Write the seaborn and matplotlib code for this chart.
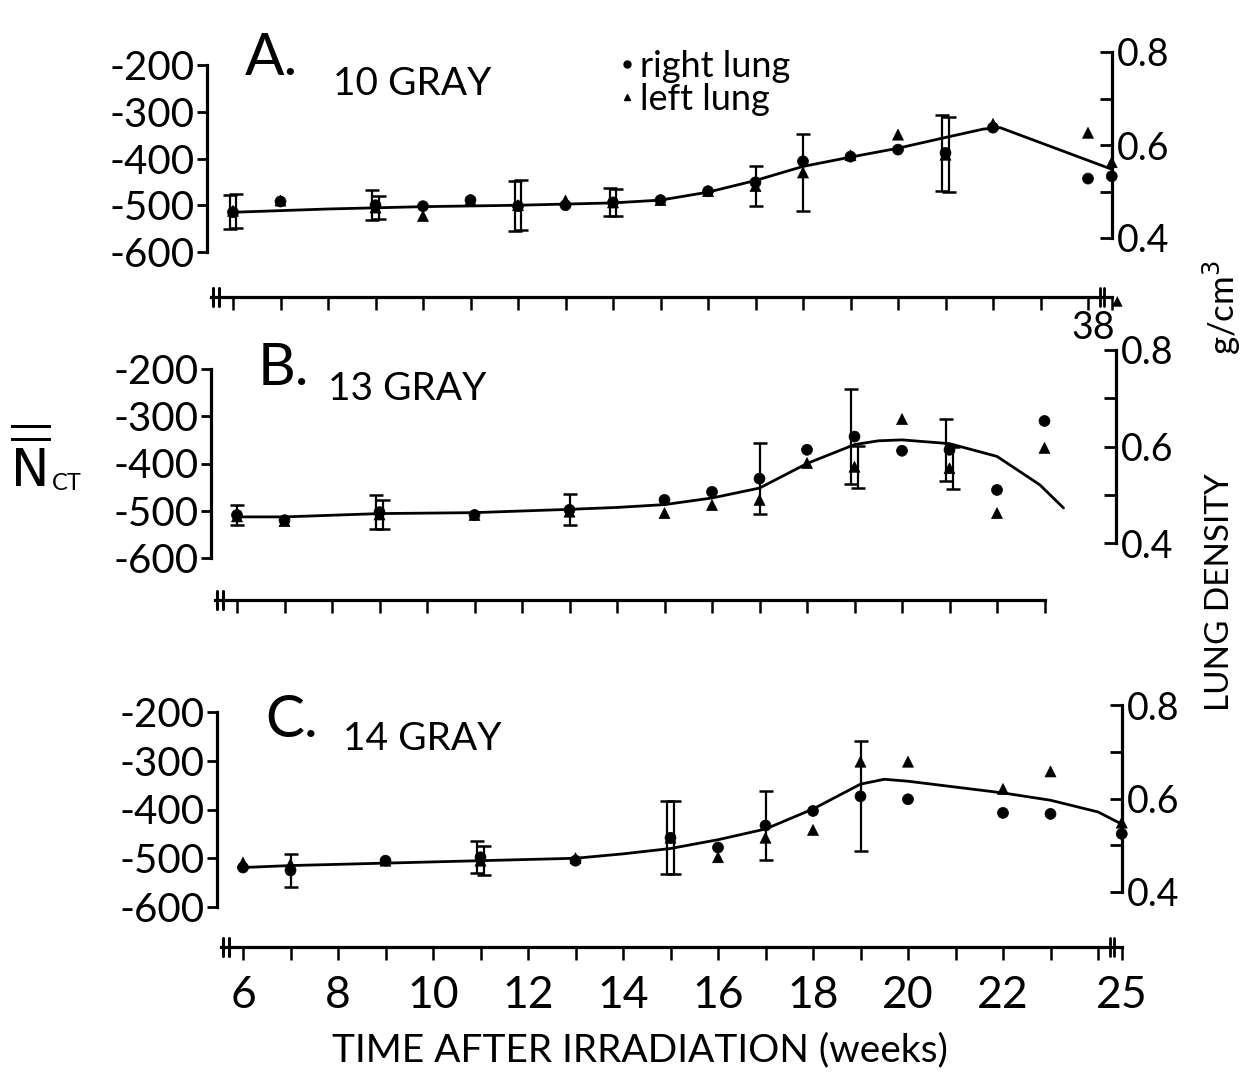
import numpy as np
import pandas as pd
import matplotlib
matplotlib.use("Agg")
import matplotlib.pyplot as plt
import matplotlib.transforms as mtransforms
from matplotlib.lines import Line2D
import seaborn as sns

nan = np.nan

# ---------------- data (HU values) ----------------
weeks_A = [6, 7, 9, 10, 11, 12, 13, 14, 15, 16, 17, 18, 19, 20, 21, 22, 24, 38]
right_A = [-515, -492, -500, -502, -489, -502, -500, -494, -489, -470, -451, -406, -396, -381, -388, -334, -443, -438]
left_A = [-512, -490, -505, -523, -489, -500, -490, -494, -489, -470, -459, -430, -393, -349, -392, -326, -345, -408]
err_right_A = [36, nan, 32, nan, nan, 54, nan, 30, nan, nan, nan, nan, nan, nan, 82, nan, nan, nan]
err_left_A = [36, nan, 25, nan, nan, 54, nan, 28, nan, nan, 43, 82, nan, nan, 80, nan, nan, nan]
curve_weeks_A = [6, 8, 10, 12, 14, 15, 16, 17, 18, 19, 20, 21, 21.8, 22.15, 38]
curve_A = [-515, -508, -503, -500, -495, -489, -472, -447, -417, -397, -378, -355, -337, -334, -423]

weeks_B = [6, 7, 9, 11, 13, 15, 16, 17, 18, 19, 20, 21, 22, 23]
right_B = [-509, -520, -503, -509, -498, -477, -460, -432, -371, -343, -373, -371, -456, -310]
left_B = [-512, -522, -508, -509, -502, -505, -488, -477, -399, -407, -306, -410, -505, -367]
err_right_B = [22, nan, 36, nan, 33, nan, nan, 75, nan, 100, nan, 66, nan, nan]
err_left_B = [nan, nan, 30, nan, nan, nan, nan, nan, nan, 45, nan, 45, nan, nan]
curve_weeks_B = [6, 7, 9, 11, 13, 14, 15, 16, 17, 18, 19, 19.5, 20, 21, 22, 22.9, 23.4]
curve_B = [-513, -513, -506, -504, -497, -493, -487, -473, -452, -400, -360, -352, -350, -358, -385, -445, -494]

weeks_C = [6, 7, 9, 11, 13, 15, 16, 17, 18, 19, 20, 22, 23, 25]
right_C = [-519, -525, -505, -498, -505, -458, -478, -433, -403, -373, -379, -407, -409, -450]
left_C = [-509, -512, -505, -505, -500, -458, -498, -458, -442, -302, -302, -358, -322, -427]
err_right_C = [nan, 34, nan, 33, nan, 75, nan, 70, nan, 113, nan, nan, nan, nan]
err_left_C = [nan, nan, nan, 30, nan, 75, nan, nan, nan, nan, nan, nan, nan, nan]
curve_weeks_C = [6, 7, 9, 11, 13, 14, 15, 16, 17, 18, 19, 19.5, 20, 21, 22, 23, 24, 25]
curve_C = [-519, -515, -510, -505, -500, -491, -480, -462, -440, -399, -348, -338, -342, -354, -366, -381, -405, -430]

panel_letters = ["A.", "B.", "C."]
panel_doses = ["10 GRAY", "13 GRAY", "14 GRAY"]
hu_ticks = [-200, -300, -400, -500, -600]
hu_ticklabels = ["-200", "-300", "-400", "-500", "-600"]
dens_ticks = [0.4, 0.5, 0.6, 0.7, 0.8]
dens_ticklabels = ["0.4", "", "0.6", "", "0.8"]
week_tick_values = [6, 8, 10, 12, 14, 16, 18, 20, 22, 25]
series_names = ["right lung", "left lung"]

# ---------------- layout ----------------
W, H = 1245, 1074
PX = 47.5          # pixels per week
LEFT_GAP = 26      # px from left spine to week 6
BREAK_POS = 24.5   # axis position used for weeks beyond the break

sns.set_style("white")
plt.rcParams["font.family"] = ["Lato", "DejaVu Sans"]
plt.rcParams["axes.unicode_minus"] = False
plt.rcParams["mathtext.fontset"] = "dejavusans"
for key in ["text.color", "axes.labelcolor", "xtick.color", "ytick.color", "axes.edgecolor"]:
    plt.rcParams[key] = "black"

fig = plt.figure(figsize=(W / 100, H / 100), dpi=100)


def to_pos(w):
    w = np.asarray(w, dtype=float)
    return np.where(w > 24, BREAK_POS, w)


def fx(px):
    return px / W


def fy(py):
    return 1 - py / H


layout = [
    dict(xw6=233, top=40, bottom=297, hu_top=65, hu_bot=252, d_top=52, d_bot=238, end=BREAK_POS, rbreak=True),
    dict(xw6=237, top=335, bottom=600, hu_top=369, hu_bot=558, d_top=350, d_bot=543, end=23, rbreak=False),
    dict(xw6=243, top=690, bottom=947, hu_top=712, hu_bot=907, d_top=705, d_bot=892, end=BREAK_POS, rbreak=True),
]

panels = [
    (weeks_A, right_A, left_A, err_right_A, err_left_A, curve_weeks_A, curve_A),
    (weeks_B, right_B, left_B, err_right_B, err_left_B, curve_weeks_B, curve_B),
    (weeks_C, right_C, left_C, err_right_C, err_left_C, curve_weeks_C, curve_C),
]

SPINE_W = 2.3
for i, (L, P) in enumerate(zip(layout, panels)):
    weeks, rv, lv, er, el, cw, cv = P
    x0 = L["xw6"] - LEFT_GAP
    x1 = L["xw6"] + (BREAK_POS - 6) * PX
    ax = fig.add_axes([fx(x0), fy(L["bottom"]), (x1 - x0) / W, (L["bottom"] - L["top"]) / H])
    ax.set_xlim(6 - LEFT_GAP / PX, BREAK_POS)
    k = (L["hu_bot"] - L["hu_top"]) / 400.0
    ax.set_ylim(-600 - (L["bottom"] - L["hu_bot"]) / k, -200 + (L["hu_top"] - L["top"]) / k)
    ax.patch.set_alpha(0)

    df = pd.DataFrame({
        "pos": np.concatenate([to_pos(weeks), to_pos(weeks)]),
        "hu": np.concatenate([rv, lv]),
        "lung": [series_names[0]] * len(weeks) + [series_names[1]] * len(weeks),
    })
    cdf = pd.DataFrame({"pos": to_pos(cw), "hu": cv})
    sns.lineplot(data=cdf, x="pos", y="hu", color="black", lw=2.0, ax=ax, sort=False, clip_on=False)
    sns.scatterplot(data=df, x="pos", y="hu", style="lung",
                    markers={series_names[0]: "o", series_names[1]: "^"},
                    color="black", s=62, edgecolor="black", linewidth=0.5,
                    ax=ax, legend=False, clip_on=False, zorder=4)

    # error bars (paired bars dodged by a few pixels)
    both = ~np.isnan(np.asarray(er, float)) & ~np.isnan(np.asarray(el, float))
    for vals, errs, dx in ((rv, er, -2.2), (lv, el, 2.2)):
        errs = np.asarray(errs, dtype=float)
        m = ~np.isnan(errs)
        off = np.where(both[m], dx, 0.0)
        xs = to_pos(weeks)[m]
        ys = np.asarray(vals, float)[m]
        for xx, yy, ee, oo in zip(xs, ys, errs[m], off):
            tr = ax.transData + mtransforms.ScaledTranslation(oo / 72, 0, fig.dpi_scale_trans)
            ax.errorbar([xx], [yy], yerr=[ee], fmt="none", ecolor="black", elinewidth=1.6,
                        capsize=5, capthick=1.8, transform=tr, clip_on=False, zorder=3)

    # left axis (HU)
    for s in ["top", "right"]:
        ax.spines[s].set_visible(False)
    ax.spines["left"].set_bounds(-600, -200)
    ax.spines["left"].set_linewidth(SPINE_W)
    ax.set_yticks(hu_ticks)
    ax.set_yticklabels(hu_ticklabels, fontsize=29)
    ax.tick_params(axis="y", which="both", left=True, right=False, direction="out",
                   length=7, width=2, pad=2)
    ax.set_ylabel("")
    ax.set_xlabel("")

    # time axis
    left_start = 6 - 22 / PX
    ax.spines["bottom"].set_bounds(left_start, L["end"])
    ax.spines["bottom"].set_linewidth(SPINE_W)
    ticks = list(range(6, int(min(L["end"], 24)) + 1))
    if L["end"] == BREAK_POS:
        ticks.append(BREAK_POS)
    ax.set_xticks(ticks)
    if i == 2:
        labs = []
        for t in ticks:
            if t == BREAK_POS:
                labs.append(str(week_tick_values[-1]))
            elif t in week_tick_values:
                labs.append(str(t))
            else:
                labs.append("")
        ax.set_xticklabels(labs, fontsize=32)
    else:
        ax.set_xticklabels([])
    ax.tick_params(axis="x", bottom=True, top=False, direction="out", length=9, width=1.8, pad=11)

    # axis break marks
    btr = mtransforms.blended_transform_factory(ax.transData, ax.transAxes)
    hh = 9 / (L["bottom"] - L["top"])
    for bx in (6 - 20 / PX, 6 - 14 / PX):
        ax.plot([bx, bx], [-hh, hh], color="black", lw=2.2, transform=btr, clip_on=False)
    if L["rbreak"]:
        for bx in (24.25, 24.33):
            ax.plot([bx, bx], [-hh, hh], color="black", lw=2.0, transform=btr, clip_on=False)

    # right axis (density)
    tw = ax.twinx()
    kd = (L["d_bot"] - L["d_top"]) / 0.4
    tw.set_ylim(0.4 - (L["bottom"] - L["d_bot"]) / kd, 0.8 + (L["d_top"] - L["top"]) / kd)
    for s in ["top", "left", "bottom"]:
        tw.spines[s].set_visible(False)
    tw.spines["right"].set_bounds(0.4, 0.8)
    tw.spines["right"].set_linewidth(SPINE_W)
    tw.set_yticks(dens_ticks)
    tw.set_yticklabels(dens_ticklabels, fontsize=27)
    tw.tick_params(axis="y", right=True, left=False, direction="in", length=9, width=2, pad=4)

# panel titles
title_pos = [((245, 75), (333, 95)), ((258, 385), (328, 400)), ((265, 737), (343, 750))]
for (lp, dp), let, dose in zip(title_pos, panel_letters, panel_doses):
    fig.text(fx(lp[0]), fy(lp[1]), let, fontsize=42, ha="left", va="baseline")
    fig.text(fx(dp[0]), fy(dp[1]), dose, fontsize=28, ha="left", va="baseline")

# legend
handles = [Line2D([], [], marker="o", ls="none", color="black", ms=5),
           Line2D([], [], marker="^", ls="none", color="black", ms=5)]
fig.legend(handles, series_names, loc="upper left", bbox_to_anchor=(fx(618), fy(50)),
           frameon=False, handlelength=0.5, handletextpad=0.1,
           labelspacing=0.0, borderpad=0, borderaxespad=0, prop={"family": "Lato", "size": 26})

# break label for panel A
fig.text(fx(1093), fy(328), "38", fontsize=27, ha="center", va="center")
fig.text(fx(1117), fy(300), "\u25B2", fontsize=10, ha="center", va="center", family="DejaVu Sans")

# axis labels
fig.text(fx(10), fy(487), r"$\overline{\overline{\mathrm{N}}}$", fontsize=37, ha="left", va="baseline")
fig.text(fx(52), fy(490), "CT", fontsize=17, ha="left", va="baseline")
fig.text(fx(1220), fy(592), "LUNG DENSITY", rotation=90, fontsize=24, ha="center", va="center")
fig.text(fx(1222), fy(308), "g/cm$^3$", rotation=90, fontsize=25, ha="center", va="center")
fig.text(fx(640), fy(1050), "TIME AFTER IRRADIATION (weeks)", fontsize=28, ha="center", va="center")

fig.savefig("out.png", dpi=100)
